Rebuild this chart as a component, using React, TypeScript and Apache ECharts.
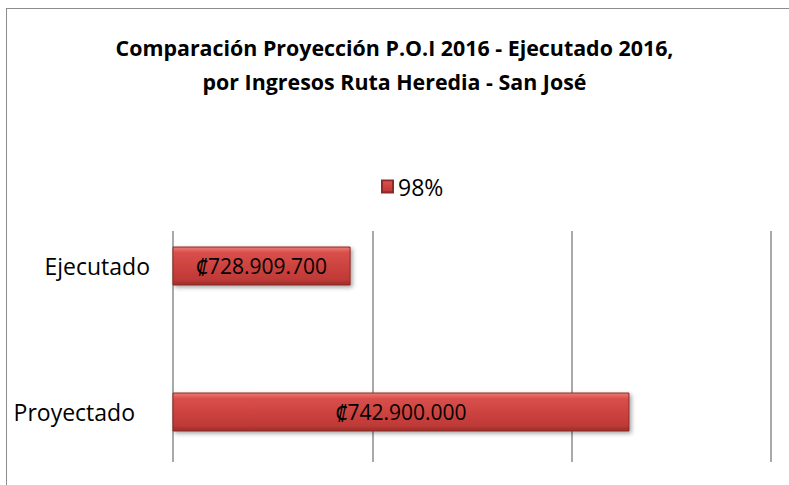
import React, { useEffect, useRef } from "react";
import * as echarts from "echarts";

const titleLines = [
  "Comparación Proyección P.O.I 2016 - Ejecutado 2016,",
  "por Ingresos Ruta Heredia - San José",
];
const seriesName = "98%";
const categories = ["Proyectado", "Ejecutado"];
const values = [742900000, 728909700];
const axisMin = 720000000;
const axisMax = 750000000;
const axisInterval = 10000000;

const FONT = "'Open Sans', 'Noto Sans', sans-serif";

function fmt(v: number): string {
  return "₡" + Math.round(v).toString().replace(/\B(?=(\d{3})+(?!\d))/g, ".");
}

const barGradient = new echarts.graphic.LinearGradient(0, 0, 0, 1, [
  { offset: 0, color: "#ee7b76" },
  { offset: 0.15, color: "#d94f4b" },
  { offset: 0.5, color: "#cd4340" },
  { offset: 0.85, color: "#bf3a37" },
  { offset: 1, color: "#9a2c2a" },
]);

export default function App() {
  const ref = useRef<HTMLDivElement>(null);
  useEffect(() => {
    if (!ref.current) return;
    document.documentElement.style.overflow = "hidden";
    const chart = echarts.init(ref.current, null, { renderer: "svg" });
    chart.setOption({
      animation: false,
      backgroundColor: "#ffffff",
      title: {
        text: titleLines.join("\n"),
        left: "center",
        top: 25,
        textStyle: {
          fontFamily: FONT,
          fontWeight: "bold",
          fontSize: 21.4,
          lineHeight: 34,
          color: "#000",
        },
      },
      legend: {
        data: [seriesName],
        top: 170,
        left: 376,
        itemWidth: 11,
        itemHeight: 12,
        itemGap: 5,
        icon: "rect",
        textStyle: { fontFamily: FONT, fontSize: 23, color: "#000" },
      },
      graphic: [
        {
          type: "line",
          shape: { x1: 6.5, y1: 8, x2: 6.5, y2: 485 },
          style: { stroke: "#8c8c8c", lineWidth: 1 },
          silent: true,
        },
        {
          type: "line",
          shape: { x1: 6, y1: 8.5, x2: 789, y2: 8.5 },
          style: { stroke: "#8c8c8c", lineWidth: 1 },
          silent: true,
        },
      ],
      grid: [
        { left: 173, width: 598, top: 231, height: 231 },
        { left: 173, width: 598, top: 193, height: 308 },
      ],
      xAxis: [
        {
          gridIndex: 0,
          type: "value",
          min: axisMin,
          max: axisMax,
          interval: axisInterval,
          axisLabel: { show: false },
          axisLine: { show: false },
          axisTick: { show: false },
          splitLine: { show: true, lineStyle: { color: "#8c8c8c", width: 1.5 } },
        },
        {
          gridIndex: 1,
          type: "value",
          min: axisMin,
          max: axisMax,
          interval: axisInterval,
          show: false,
          splitLine: { show: false },
        },
      ],
      yAxis: [
        {
          gridIndex: 0,
          type: "category",
          data: categories,
          show: false,
        },
        {
          gridIndex: 1,
          type: "category",
          data: categories,
          axisLine: { show: false },
          axisTick: { show: false },
          axisLabel: {
            margin: 23,
            fontFamily: FONT,
            fontSize: 23,
            color: "#000",
            formatter: (v: string) => (v === "Proyectado" ? "{p|" + v + "}" : "{e|" + v + "}"),
            rich: {
              p: { fontFamily: FONT, fontSize: 23, color: "#000", padding: [0, 15, 0, 0] },
              e: { fontFamily: FONT, fontSize: 23, color: "#000" },
            },
          },
        },
      ],
      series: [
        {
          name: seriesName,
          type: "bar",
          xAxisIndex: 1,
          yAxisIndex: 1,
          data: values,
          barWidth: 39,
          itemStyle: {
            color: barGradient,
            borderColor: "#8e2a27",
            borderWidth: 1,
            shadowColor: "rgba(0,0,0,0.35)",
            shadowBlur: 4,
            shadowOffsetX: 2,
            shadowOffsetY: 2,
          },
          label: {
            show: true,
            position: "inside",
            formatter: (p: any) => fmt(p.value),
            fontFamily: FONT,
            fontSize: 21,
            color: "#000",
          },
        },
      ],
    });
    return () => chart.dispose();
  }, []);
  return <div ref={ref} style={{ position: "absolute", left: 0, top: 0, width: 789, height: 485 }} />;
}
